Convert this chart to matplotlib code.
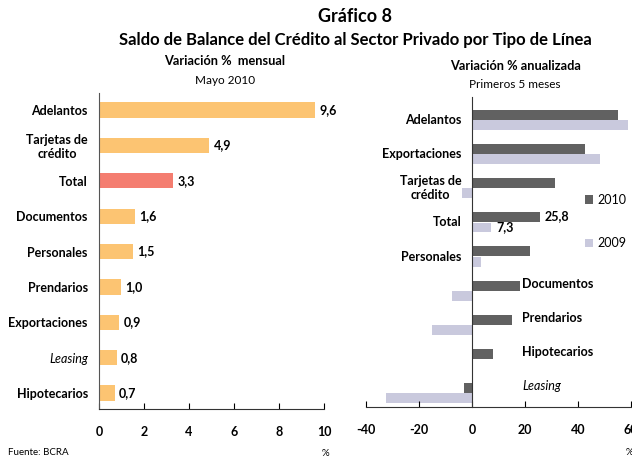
import numpy as np
import matplotlib.pyplot as plt

plt.rcParams['font.family'] = ['Lato', 'DejaVu Sans']
plt.rcParams['axes.unicode_minus'] = False

# left panel: monthly change, May 2010
cat_m = ['Adelantos', 'Tarjetas de\ncrédito', 'Total', 'Documentos', 'Personales',
         'Prendarios', 'Exportaciones', 'Leasing', 'Hipotecarios']
val_m = [9.6, 4.9, 3.3, 1.6, 1.5, 1.0, 0.9, 0.8, 0.7]
lbl_m = ['9,6', '4,9', '3,3', '1,6', '1,5', '1,0', '0,9', '0,8', '0,7']

# right panel: annualized change, first 5 months
cat_a = ['Adelantos', 'Exportaciones', 'Tarjetas de\ncrédito', 'Total', 'Personales',
         'Documentos', 'Prendarios', 'Hipotecarios', 'Leasing']
val_2010 = [55.0, 42.6, 31.3, 25.8, 21.9, 18.1, 15.1, 8.0, -3.0]
val_2009 = [59.0, 48.3, -3.9, 7.3, 3.3, -7.7, -15.2, 0.0, -32.5]

orange = '#FCC472'
red = '#F47D70'
dark = '#616161'
light = '#C9C9DD'

fs = 9

fig = plt.figure(figsize=(6.32, 4.58), dpi=100)

fig.text(0.562, 0.965, 'Gráfico 8', ha='center', va='center', fontsize=13, fontweight='bold')
fig.text(0.562, 0.913, 'Saldo de Balance del Crédito al Sector Privado por Tipo de Línea',
         ha='center', va='center', fontsize=12, fontweight='bold')
fig.text(0.356, 0.867, 'Variación %  mensual', ha='center', va='center', fontsize=9.2, fontweight='bold')
fig.text(0.356, 0.825, 'Mayo 2010', ha='center', va='center', fontsize=8.5)
fig.text(0.815, 0.856, 'Variación % anualizada', ha='center', va='center', fontsize=9.2, fontweight='bold')
fig.text(0.815, 0.816, 'Primeros 5 meses', ha='center', va='center', fontsize=8.5)
fig.text(0.012, 0.013, 'Fuente: BCRA', ha='left', va='center', fontsize=7)
fig.text(0.515, 0.010, '%', ha='center', va='center', fontsize=7)
fig.text(0.996, 0.013, '%', ha='center', va='center', fontsize=7)

# ---- left panel
ax1 = fig.add_axes([0.1566, 0.107, 0.3561, 0.690])
y = np.arange(len(cat_m))
colors = [red if c == 'Total' else orange for c in cat_m]
bars = ax1.barh(y, val_m, height=0.43, color=colors)
for b, t in zip(bars, lbl_m):
    ax1.annotate(t, (b.get_width(), b.get_y() + b.get_height() / 2), xytext=(3, 0),
                 textcoords='offset points', ha='left', va='center', fontsize=fs, fontweight='bold')
ax1.set_xlim(0, 10)
ax1.set_ylim(8.45, -0.48)
ax1.set_xticks(np.arange(0, 11, 2))
ax1.set_yticks(y)
ax1.set_yticklabels(cat_m, fontsize=fs, fontweight='bold', multialignment='center')
ax1.get_yticklabels()[7].set_style('italic')
ax1.get_yticklabels()[7].set_fontweight('normal')
ax1.tick_params(axis='y', length=0, pad=8)
ax1.tick_params(axis='x', direction='in', length=4, pad=12, labelsize=fs)
for t in ax1.get_xticklabels():
    t.set_fontweight('bold')
ax1.spines['top'].set_visible(False)
ax1.spines['right'].set_visible(False)
ax1.spines['left'].set_color('#555555')
ax1.spines['bottom'].set_color('#333333')

# ---- right panel
ax2 = fig.add_axes([0.579, 0.111, 0.4194, 0.677])
y2 = np.arange(len(cat_a))
ax2.barh(y2 - 0.15, val_2010, height=0.29, color=dark, label='2010')
ax2.barh(y2 + 0.15, val_2009, height=0.29, color=light, label='2009')
ax2.set_xlim(-40, 60)
ax2.set_ylim(8.41, -0.67)
ax2.set_xticks(np.arange(-40, 61, 20))
ax2.set_yticks([])
ax2.tick_params(axis='x', direction='in', length=4, pad=12, labelsize=fs)
for t in ax2.get_xticklabels():
    t.set_fontweight('bold')
ax2.spines['top'].set_visible(False)
ax2.spines['right'].set_visible(False)
ax2.spines['left'].set_position(('data', 0))
ax2.spines['left'].set_color('#333333')
ax2.spines['bottom'].set_color('#333333')

for i, c in enumerate(cat_a):
    if i < 5:
        ax2.text(-4, i, c, ha='right', va='center', fontsize=fs, fontweight='bold',
                 multialignment='center')
    else:
        kw = dict(style='italic', fontweight='normal') if c == 'Leasing' else dict(fontweight='bold')
        ax2.text(19, i - 0.2, c, ha='left', va='center', fontsize=fs, **kw)

it = cat_a.index('Total')
ax2.annotate('25,8', (val_2010[it], it - 0.15), xytext=(3, 1), textcoords='offset points',
             ha='left', va='center', fontsize=fs, fontweight='bold')
ax2.annotate('7,3', (val_2009[it], it + 0.15), xytext=(4, 0), textcoords='offset points',
             ha='left', va='center', fontsize=fs, fontweight='bold')

ax2.legend(loc='upper left', bbox_to_anchor=(0.915, 0.59), bbox_transform=fig.transFigure,
           frameon=False, fontsize=fs, handlelength=0.7, handleheight=0.7,
           handletextpad=0.3, labelspacing=2.5, borderpad=0)

fig.savefig('out.png', dpi=100)
